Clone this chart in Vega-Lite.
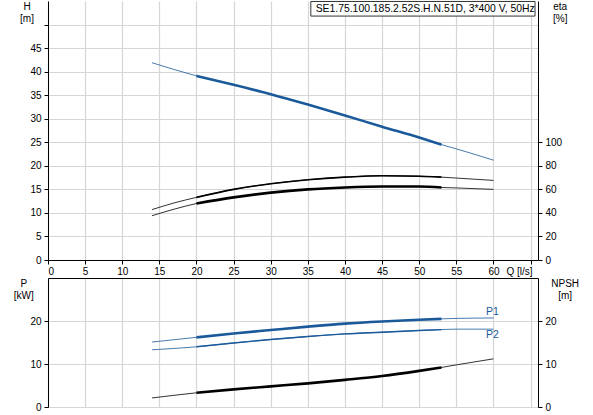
{
  "$schema": "https://vega.github.io/schema/vega-lite/v6.json",
  "padding": {"left": 13, "top": 0, "right": 5, "bottom": 5},
  "background": "white",
  "spacing": 18,
  "bounds": "flush",
  "config": {
    "font": "Liberation Sans",
    "view": {"stroke": null},
    "axis": {
      "labelFont": "Liberation Sans",
      "labelFontSize": 10,
      "labelColor": "#000",
      "titleFont": "Liberation Sans",
      "titleFontSize": 10,
      "titleFontWeight": "normal",
      "titleColor": "#000",
      "domainColor": "#000",
      "domainWidth": 1,
      "tickColor": "#000",
      "tickSize": 4,
      "labelPadding": 3,
      "gridColor": "#d6d6d6",
      "gridWidth": 1.2
    }
  },
  "datasets": {
    "curves": [
      {"curve": "H", "Q": 14, "v": 41.9},
      {"curve": "H", "Q": 20, "v": 39.1},
      {"curve": "H", "Q": 25, "v": 37.2},
      {"curve": "H", "Q": 30, "v": 35.2},
      {"curve": "H", "Q": 35, "v": 33.0},
      {"curve": "H", "Q": 40, "v": 30.7},
      {"curve": "H", "Q": 45, "v": 28.3},
      {"curve": "H", "Q": 50, "v": 26.0},
      {"curve": "H", "Q": 53, "v": 24.5},
      {"curve": "H", "Q": 55, "v": 23.6},
      {"curve": "H", "Q": 60, "v": 21.2},
      {"curve": "eta1", "Q": 14, "v": 42.8},
      {"curve": "eta1", "Q": 17, "v": 48.5},
      {"curve": "eta1", "Q": 20, "v": 53.2},
      {"curve": "eta1", "Q": 25, "v": 60.0},
      {"curve": "eta1", "Q": 30, "v": 64.8},
      {"curve": "eta1", "Q": 35, "v": 68.2},
      {"curve": "eta1", "Q": 40, "v": 70.4},
      {"curve": "eta1", "Q": 45, "v": 71.6},
      {"curve": "eta1", "Q": 50, "v": 71.2},
      {"curve": "eta1", "Q": 53, "v": 70.4},
      {"curve": "eta1", "Q": 55, "v": 69.6},
      {"curve": "eta1", "Q": 60, "v": 67.6},
      {"curve": "eta2", "Q": 14, "v": 37.6},
      {"curve": "eta2", "Q": 17, "v": 43.2},
      {"curve": "eta2", "Q": 20, "v": 48.0},
      {"curve": "eta2", "Q": 25, "v": 53.2},
      {"curve": "eta2", "Q": 30, "v": 57.2},
      {"curve": "eta2", "Q": 35, "v": 60.0},
      {"curve": "eta2", "Q": 40, "v": 61.6},
      {"curve": "eta2", "Q": 45, "v": 62.4},
      {"curve": "eta2", "Q": 50, "v": 62.4},
      {"curve": "eta2", "Q": 53, "v": 61.6},
      {"curve": "eta2", "Q": 55, "v": 61.2},
      {"curve": "eta2", "Q": 60, "v": 60.0},
      {"curve": "P1", "Q": 14, "v": 15.1},
      {"curve": "P1", "Q": 20, "v": 16.2},
      {"curve": "P1", "Q": 25, "v": 17.1},
      {"curve": "P1", "Q": 30, "v": 17.9},
      {"curve": "P1", "Q": 35, "v": 18.7},
      {"curve": "P1", "Q": 40, "v": 19.4},
      {"curve": "P1", "Q": 45, "v": 19.9},
      {"curve": "P1", "Q": 50, "v": 20.3},
      {"curve": "P1", "Q": 53, "v": 20.5},
      {"curve": "P1", "Q": 55, "v": 20.6},
      {"curve": "P1", "Q": 60, "v": 20.7},
      {"curve": "P2", "Q": 14, "v": 13.3},
      {"curve": "P2", "Q": 20, "v": 14.0},
      {"curve": "P2", "Q": 25, "v": 14.9},
      {"curve": "P2", "Q": 30, "v": 15.7},
      {"curve": "P2", "Q": 35, "v": 16.4},
      {"curve": "P2", "Q": 40, "v": 17.0},
      {"curve": "P2", "Q": 45, "v": 17.4},
      {"curve": "P2", "Q": 50, "v": 17.8},
      {"curve": "P2", "Q": 53, "v": 18.0},
      {"curve": "P2", "Q": 55, "v": 18.1},
      {"curve": "P2", "Q": 60, "v": 18.1},
      {"curve": "NPSH", "Q": 14, "v": 2.1},
      {"curve": "NPSH", "Q": 20, "v": 3.3},
      {"curve": "NPSH", "Q": 25, "v": 4.1},
      {"curve": "NPSH", "Q": 30, "v": 4.8},
      {"curve": "NPSH", "Q": 35, "v": 5.5},
      {"curve": "NPSH", "Q": 40, "v": 6.3},
      {"curve": "NPSH", "Q": 45, "v": 7.2},
      {"curve": "NPSH", "Q": 50, "v": 8.4},
      {"curve": "NPSH", "Q": 53, "v": 9.2},
      {"curve": "NPSH", "Q": 55, "v": 9.8},
      {"curve": "NPSH", "Q": 60, "v": 11.2}
    ],
    "nameplate": [
      {"Q": 35.4, "Q2": 65.6, "v": 54.9, "v2": 51.8, "Qt": 36.05, "vt": 53.4, "label": "SE1.75.100.185.2.52S.H.N.51D, 3*400 V, 50Hz"}
    ],
    "powerLabels": [
      {"Q": 59.0, "v": 22.0, "label": "P1"},
      {"Q": 59.0, "v": 16.7, "label": "P2"}
    ]
  },
  "vconcat": [
    {
      "width": 490,
      "height": 259,
      "encoding": {
        "x": {
          "field": "Q", "type": "quantitative",
          "scale": {"domain": [0, 66], "nice": false},
          "axis": {
            "values": [0, 5, 10, 15, 20, 25, 30, 35, 40, 45, 50, 55, 60, 65],
            "labelExpr": "datum.value > 60 ? '' : datum.label",
            "labelPadding": 2,
            "title": "Q [l/s]",
            "titleX": 458, "titleY": 6,
            "titleAlign": "left", "titleBaseline": "top",
            "grid": true
          }
        }
      },
      "layer": [
        {
          "encoding": {
            "y": {
              "field": "v", "type": "quantitative",
              "scale": {"domain": [0, 55], "nice": false},
              "axis": {
                "values": [0, 5, 10, 15, 20, 25, 30, 35, 40, 45, 50],
                "labelExpr": "datum.value > 45 ? '' : datum.label",
                "title": ["H", "[m]"],
                "titleAngle": 0, "titleAlign": "center", "titleBaseline": "top",
                "titleX": -21.5, "titleY": 0, "titleLineHeight": 12,
                "grid": true
              }
            }
          },
          "layer": [
            {
              "data": {"name": "curves"},
              "transform": [{"filter": "datum.curve == 'H'"}],
              "mark": {"type": "line", "color": "#1a5a9a", "strokeWidth": 1, "opacity": 0.8, "interpolate": "monotone"}
            },
            {
              "data": {"name": "curves"},
              "transform": [{"filter": "datum.curve == 'H' && datum.Q >= 20 && datum.Q <= 53"}],
              "mark": {"type": "line", "color": "#1a5a9a", "strokeWidth": 2.6, "interpolate": "monotone"}
            },
            {
              "data": {"name": "nameplate"},
              "mark": {"type": "rect", "fill": "white", "stroke": "#333", "strokeWidth": 1},
              "encoding": {"x2": {"field": "Q2"}, "y2": {"field": "v2"}}
            },
            {
              "data": {"name": "nameplate"},
              "mark": {"type": "text", "align": "left", "baseline": "middle", "fontSize": 10.4, "font": "Liberation Sans", "color": "#000"},
              "encoding": {
                "x": {"field": "Qt", "type": "quantitative"},
                "y": {"field": "vt", "type": "quantitative"},
                "text": {"field": "label"}
              }
            }
          ]
        },
        {
          "encoding": {
            "y": {
              "field": "v", "type": "quantitative",
              "scale": {"domain": [0, 220], "nice": false},
              "axis": {
                "orient": "right",
                "values": [0, 20, 40, 60, 80, 100],
                "title": ["eta", "[%]"],
                "titleAngle": 0, "titleAlign": "center", "titleBaseline": "top",
                "titleX": 21.7, "titleY": 0, "titleLineHeight": 12,
                "grid": false
              }
            },
            "detail": {"field": "curve"}
          },
          "layer": [
            {
              "data": {"name": "curves"},
              "transform": [{"filter": "datum.curve == 'eta1' || datum.curve == 'eta2'"}],
              "mark": {"type": "line", "color": "#000", "strokeWidth": 1, "opacity": 0.8, "interpolate": "monotone"}
            },
            {
              "data": {"name": "curves"},
              "transform": [{"filter": "datum.curve == 'eta1' && datum.Q >= 20 && datum.Q <= 53"}],
              "mark": {"type": "line", "color": "#000", "strokeWidth": 1.6, "interpolate": "monotone"}
            },
            {
              "data": {"name": "curves"},
              "transform": [{"filter": "datum.curve == 'eta2' && datum.Q >= 20 && datum.Q <= 53"}],
              "mark": {"type": "line", "color": "#000", "strokeWidth": 2.6, "interpolate": "monotone"}
            }
          ]
        }
      ],
      "resolve": {"scale": {"y": "independent"}}
    },
    {
      "width": 490,
      "height": 129,
      "encoding": {
        "x": {
          "field": "Q", "type": "quantitative",
          "scale": {"domain": [0, 66], "nice": false},
          "axis": {
            "orient": "top",
            "values": [0, 5, 10, 15, 20, 25, 30, 35, 40, 45, 50, 55, 60, 65],
            "labels": false, "ticks": false, "title": null,
            "grid": true
          }
        }
      },
      "layer": [
        {
          "encoding": {
            "y": {
              "field": "v", "type": "quantitative",
              "scale": {"domain": [0, 30], "nice": false},
              "axis": {
                "values": [0, 10, 20],
                "title": ["P", "[kW]"],
                "titleAngle": 0, "titleAlign": "center", "titleBaseline": "top",
                "titleX": -24.7, "titleY": 0, "titleLineHeight": 12,
                "grid": true
              }
            }
          },
          "layer": [
            {
              "data": {"name": "curves"},
              "transform": [{"filter": "datum.curve == 'P1' || datum.curve == 'P2'"}],
              "mark": {"type": "line", "color": "#1a5a9a", "strokeWidth": 1, "opacity": 0.8, "interpolate": "monotone"},
              "encoding": {"detail": {"field": "curve"}}
            },
            {
              "data": {"name": "curves"},
              "transform": [{"filter": "datum.curve == 'P1' && datum.Q >= 20 && datum.Q <= 53"}],
              "mark": {"type": "line", "color": "#1a5a9a", "strokeWidth": 2.6, "interpolate": "monotone"}
            },
            {
              "data": {"name": "curves"},
              "transform": [{"filter": "datum.curve == 'P2' && datum.Q >= 20 && datum.Q <= 53"}],
              "mark": {"type": "line", "color": "#1a5a9a", "strokeWidth": 1.4, "interpolate": "monotone"}
            },
            {
              "data": {"name": "powerLabels"},
              "mark": {"type": "text", "align": "left", "baseline": "middle", "fontSize": 10.5, "font": "Liberation Sans", "color": "#1a5a9a"},
              "encoding": {"text": {"field": "label"}}
            }
          ]
        },
        {
          "encoding": {
            "y": {
              "field": "v", "type": "quantitative",
              "scale": {"domain": [0, 30], "nice": false},
              "axis": {
                "orient": "right",
                "values": [0, 10, 20],
                "title": ["NPSH", "[m]"],
                "titleAngle": 0, "titleAlign": "center", "titleBaseline": "top",
                "titleX": 26.7, "titleY": 0, "titleLineHeight": 12,
                "grid": false
              }
            }
          },
          "layer": [
            {
              "data": {"name": "curves"},
              "transform": [{"filter": "datum.curve == 'NPSH'"}],
              "mark": {"type": "line", "color": "#000", "strokeWidth": 1, "opacity": 0.8, "interpolate": "monotone"}
            },
            {
              "data": {"name": "curves"},
              "transform": [{"filter": "datum.curve == 'NPSH' && datum.Q >= 20 && datum.Q <= 53"}],
              "mark": {"type": "line", "color": "#000", "strokeWidth": 2.6, "interpolate": "monotone"}
            }
          ]
        }
      ],
      "resolve": {"scale": {"y": "independent"}}
    }
  ]
}
